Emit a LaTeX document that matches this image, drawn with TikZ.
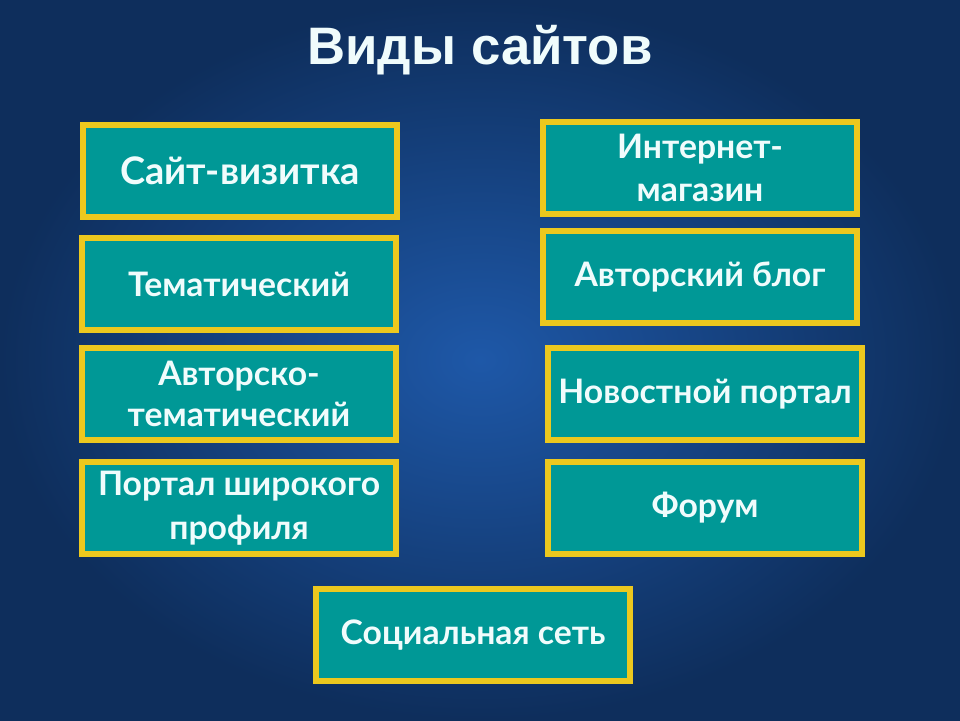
\documentclass[tikz,border=0pt]{standalone}
\usepackage{fontspec}
\setmainfont{Lato}
\newfontfamily\titlefont{Liberation Sans}
\usepackage{xcolor}
\usetikzlibrary{positioning}

\definecolor{bgblue}{RGB}{30,88,168}
\definecolor{bgdark}{RGB}{14,46,92}
\definecolor{boxteal}{RGB}{0,152,150}
\definecolor{boxgold}{RGB}{236,200,30}
\definecolor{txtwhite}{RGB}{240,252,252}

\begin{document}
\begin{tikzpicture}[
  kind/.style={draw=boxgold, line width=3.6pt, fill=boxteal, align=center,
    minimum width=7.85cm, minimum height=2.3cm, inner sep=2pt,
    text=txtwhite, font=\bfseries\fontsize{24}{29}\selectfont}
]
  % background
  \shade[inner color=bgblue, outer color=bgdark] (0,0) rectangle (24,-18);
  \useasboundingbox (0,0) rectangle (24,-18);

  \node[text=txtwhite, font=\titlefont\bfseries\fontsize{37.5}{42}\selectfont] (title) at (12,-1.25) {Виды сайтов};

  % left column
  \node[kind, font=\bfseries\fontsize{27}{30}\selectfont] (vizit) at (6.0,-4.275) {Сайт-визитка};
  \node[kind] (tema) at (5.975,-7.1) {Тематический};
  \node[kind] (avtema) at (5.975,-9.85) {Авторско-\\тематический};
  \node[kind, font=\bfseries\fontsize{24}{31}\selectfont] (portal) at (5.975,-12.7) {Портал широкого\\профиля};

  % right column
  \node[kind, font=\bfseries\fontsize{24}{31}\selectfont] (shop) at (17.5,-4.2) {Интернет-\\магазин};
  \node[kind] (blog) at (17.5,-6.925) {Авторский блог};
  \node[kind] (news) at (17.625,-9.85) {Новостной портал};
  \node[kind] (forum) at (17.625,-12.7) {Форум};

  \node[kind] (social) at (11.825,-15.875) {Социальная сеть};
\end{tikzpicture}
\end{document}
